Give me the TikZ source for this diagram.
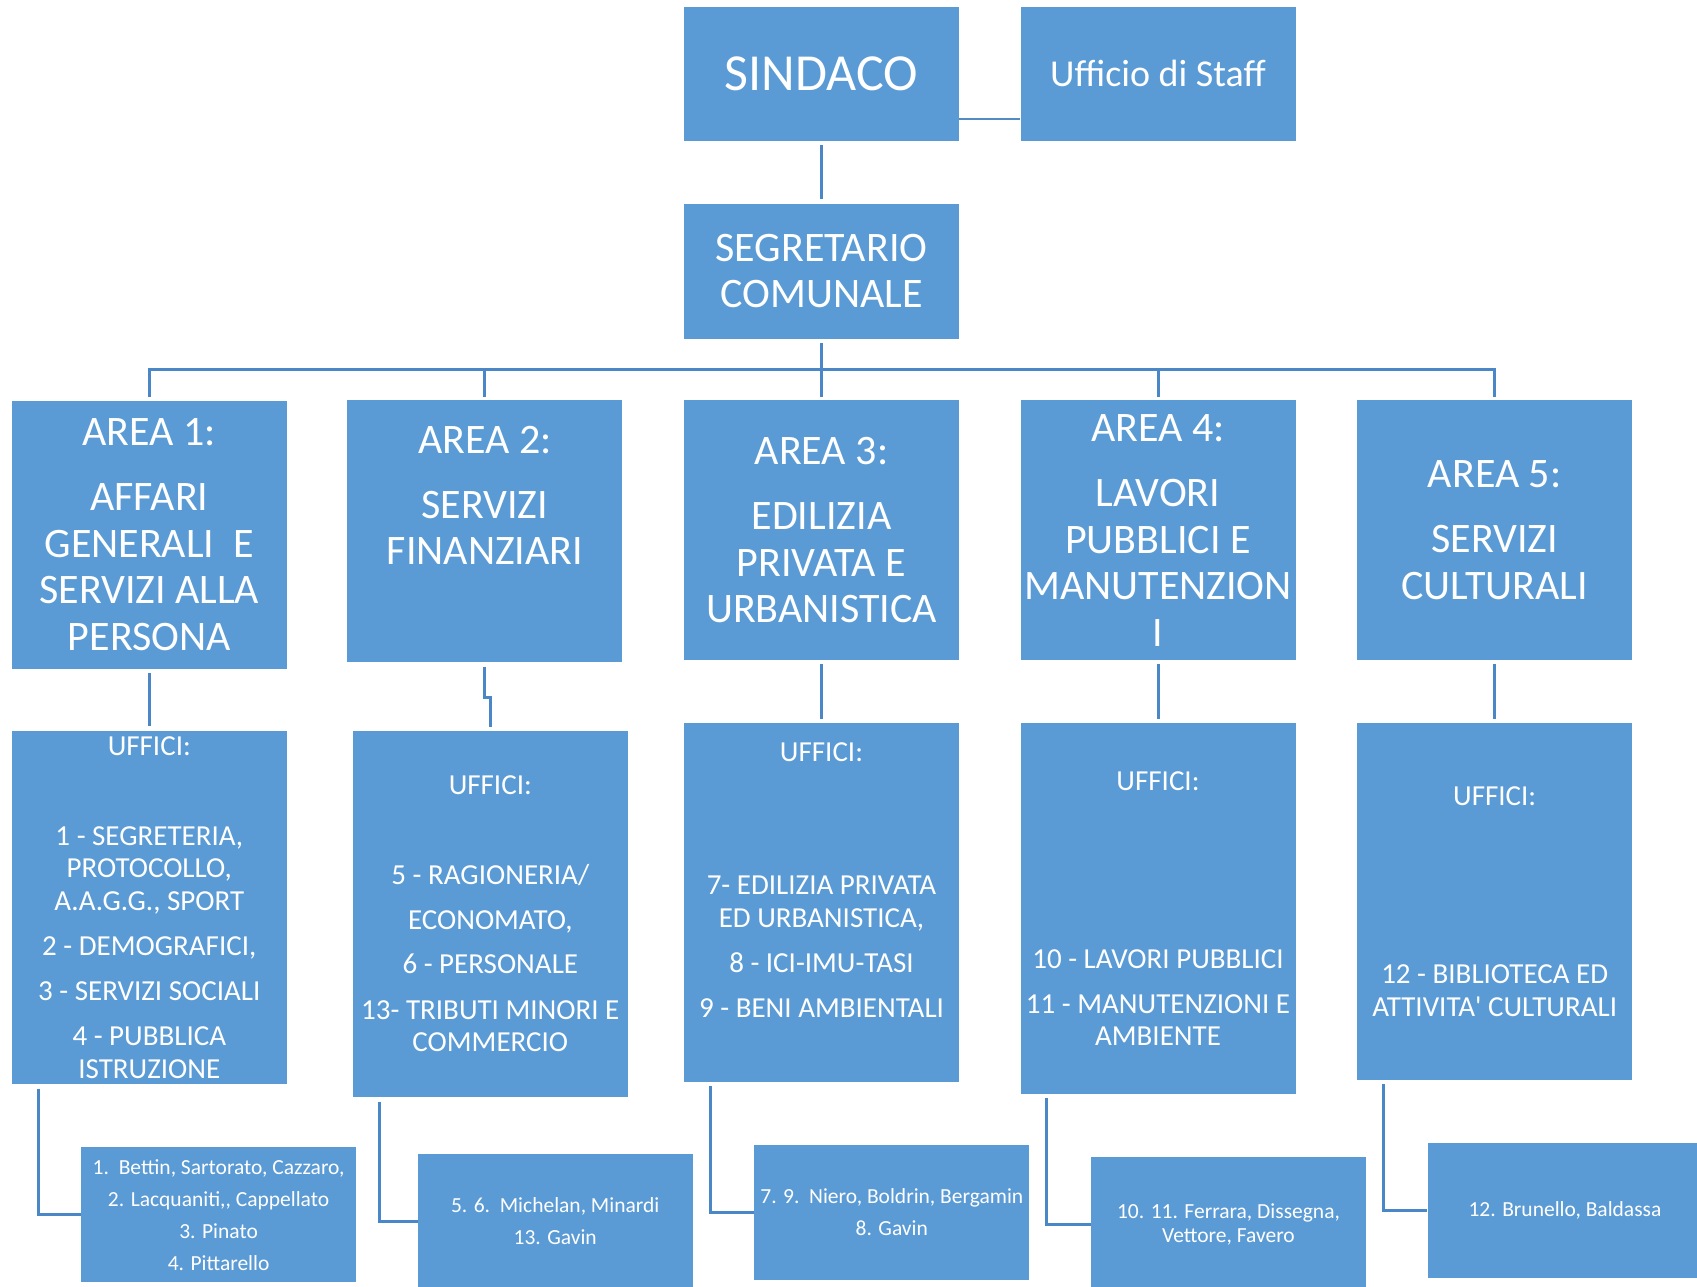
\documentclass[tikz,border=0pt]{standalone}
\usepackage{fontspec}
\setmainfont{Carlito}
\definecolor{boxblue}{HTML}{5B9BD5}
\definecolor{lineblue}{HTML}{4A87C6}

\begin{document}
\begin{tikzpicture}[x=1pt, y=-1pt,
	box/.style={fill=boxblue, text=white, minimum width=275pt, inner sep=0pt, align=center},
	area/.style={box, font=\fontsize{42}{46.5}\selectfont},
	uff/.style={box, font=\fontsize{29}{32.5}\selectfont},
	nom/.style={box, minimum height=135pt, font=\fontsize{21.5}{32}\selectfont},
	conn/.style={draw=lineblue, line width=3pt}]
	\useasboundingbox (0,0) rectangle (1697,1287);
	\node[box, minimum height=134pt, font=\fontsize{52}{60}\selectfont] (sin) at (821.5,73.6) {SINDACO};
	\node[box, minimum height=134pt, font=\fontsize{38}{44}\selectfont] (staff) at (1158,73.6) {Ufficio di Staff};
	\node[area, minimum height=135pt] (seg) at (821.5,271.1) {SEGRETARIO\\COMUNALE};
	\node[area, minimum height=268.4pt] (a1) at (149.3,534.7) {AREA 1:\\[18.5pt]AFFARI\\GENERALI\ \ E\\SERVIZI ALLA\\PERSONA};
	\node[area, minimum height=261.9pt] (a2) at (484.9,531.4) {AREA 2:\\[18.5pt]SERVIZI\\FINANZIARI\\[25.5pt]\mbox{}};
	\node[area, minimum height=259.7pt] (a3) at (821.5,530.3) {AREA 3:\\[18.5pt]EDILIZIA\\PRIVATA E\\URBANISTICA};
	\node[area, minimum height=259.7pt] (a4) at (1158,530.3) {AREA 4:\\[18.5pt]LAVORI\\PUBBLICI E\\MANUTENZION\\I};
	\node[area, minimum height=259.7pt] (a5) at (1494.7,530.3) {AREA 5:\\[18.5pt]SERVIZI\\CULTURALI};
	\node[uff, minimum height=353.9pt] (u1) at (149.3,907.5) {UFFICI:\\[57.5pt]1 - SEGRETERIA,\\PROTOCOLLO,\\A.A.G.G., SPORT\\[13pt]2 - DEMOGRAFICI,\\[12pt]3 - SERVIZI SOCIALI\\[13pt]4 - PUBBLICA\\ISTRUZIONE};
	\node[uff, minimum height=366.8pt] (u2) at (490.3,914) {UFFICI:\\[57.5pt]5 - RAGIONERIA/\\[12pt]ECONOMATO,\\[12pt]6 - PERSONALE\\[13pt]13- TRIBUTI MINORI E\\COMMERCIO};
	\node[uff, minimum height=359.3pt] (u3) at (821.5,902.6) {UFFICI:\\[100.5pt]7- EDILIZIA PRIVATA\\ED URBANISTICA,\\[13pt]8 - ICI-IMU-TASI\\[12pt]9 - BENI AMBIENTALI\\[13pt]\mbox{}};
	\node[uff, minimum height=371.2pt] (u4) at (1158,908.6) {UFFICI:\\[146pt]10 - LAVORI PUBBLICI\\[12pt]11 - MANUTENZIONI E\\AMBIENTE};
	\node[uff, minimum height=357.1pt] (u5) at (1494.7,901.6) {UFFICI:\\[146pt]12 - BIBLIOTECA ED\\ATTIVITA\textquotesingle{} CULTURALI};
	\node[nom] (n1) at (218.6,1214.9) {1.\ \ Bettin, Sartorato, Cazzaro,\\2. Lacquaniti,{},\ Cappellato\\3. Pinato\\4. Pittarello};
	\node[nom] (n2) at (555.2,1221.4) {5. 6.\ \ Michelan, Minardi\\13. Gavin};
	\node[nom] (n3) at (891.8,1212.2) {7. 9.\ \ Niero, Boldrin, Bergamin\\[-0.6pt]8. Gavin};
	\node[nom] (n4) at (1228.5,1224.7) {10. 11. Ferrara, Dissegna,\\[-8.2pt]Vettore, Favero};
	\node[nom] (n5) at (1565,1210.6) {12. Brunello, Baldassa};
	\coordinate (bus) at (821.5,369);
	\draw[draw=boxblue!90!black, line width=1.5pt] ([yshift=-45.4pt]sin.east) -- ([yshift=-45.4pt]staff.west);
	\draw[conn, shorten <=4pt, shorten >=4pt] (sin) -- (seg);
	\draw[conn, shorten <=4pt] (seg.south) -- (bus);
	\foreach \a in {a1,a2,a3,a4,a5} {\draw[conn, shorten <=3pt] (\a.north) |- (bus);}
	\foreach \a/\b in {a1/u1,a3/u3,a4/u4,a5/u5} {\draw[conn, shorten <=4pt, shorten >=4pt] (\a) -- (\b);}
	\draw[conn, shorten <=4pt, shorten >=3pt] (a2.south) -- ++(0,35) -| (u2.north);
	\foreach \u/\n in {u1/n1,u2/n2,u3/n3,u4/n4,u5/n5} {\draw[conn, shorten <=4pt] ([xshift=26.5pt]\u.south west) |- (\n.west);}
\end{tikzpicture}
\end{document}
